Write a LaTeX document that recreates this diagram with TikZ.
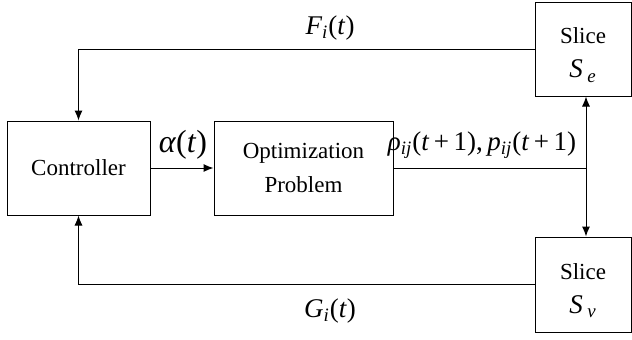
\documentclass[tikz,border=0pt]{standalone}
\usepackage{fontspec}
\setmainfont{Liberation Serif}
\usetikzlibrary{arrows.meta,positioning}
\newcommand{\iv}[1]{\textit{#1}}
\newcommand{\isub}[1]{\textsubscript{\textit{#1}}}
\tikzset{
  block/.style={draw, line width=0.5pt, align=center, inner sep=0pt,
    font=\fontsize{11.5}{17}\selectfont},
  link/.style={line width=0.5pt, -{Latex[length=5pt,width=4pt]}},
  sig/.style={inner sep=0pt, font=\fontsize{13.5}{15}\selectfont}
}
\begin{document}
\begin{tikzpicture}[x=0.5pt,y=-0.5pt]
\useasboundingbox (0,0) rectangle (632,339);
% blocks
\node[block, minimum width=71.5pt, minimum height=47pt] (ctrl) at (78.5,168) {Controller};
\node[block, minimum width=89.5pt, minimum height=47pt] (opt) at (303.5,168) {Optimization\\Problem};
\node[block, minimum width=48pt, minimum height=47pt] (se) at (583,49)
  {\rule{0pt}{14pt}Slice\\{\fontsize{13.5}{15}\selectfont\iv{S}\,\isub{e}}};
\node[block, minimum width=48pt, minimum height=47.5pt] (sv) at (583,284.5)
  {\rule{0pt}{14pt}Slice\\{\fontsize{13.5}{15}\selectfont\iv{S}\,\isub{v}}};
\coordinate (split) at (586,168);
% connectors
\draw[link] (ctrl) -- (opt);
\draw[line width=0.5pt] (opt) -- (split);
\draw[link] (split) -- (split |- se.south);
\draw[link] (split) -- (split |- sv.north);
\draw[link] (se.west) -| (ctrl.north);
\draw[link] (sv.west) -| (ctrl.south);
% signals
\node[sig] (fi) at (330,28) {\iv{F}\isub{i}(\iv{t})};
\node[sig] (gi) at (330,311) {\iv{G}\isub{i}(\iv{t})};
\node[sig, font=\fontsize{16}{18}\selectfont] (alpha) at (183,145) {\iv{α}(\iv{t})};
\node[sig] (rho) at (482,145) {\iv{ρ}\isub{ij}(\iv{t}\,+\,1),\,\iv{p}\isub{ij}(\iv{t}\,+\,1)};
\end{tikzpicture}
\end{document}
